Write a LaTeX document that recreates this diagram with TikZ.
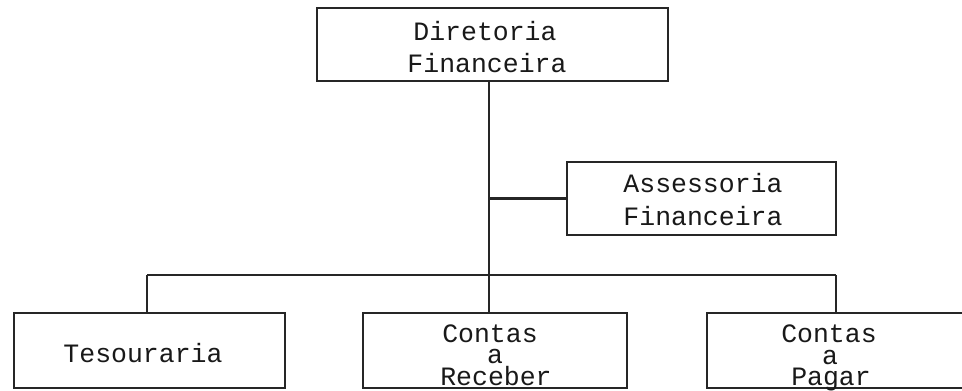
\documentclass[tikz,border=0pt]{standalone}
\usepackage{fontspec}
\newfontfamily\typew{Liberation Mono}
\begin{document}
\begin{tikzpicture}[x=1pt,y=-1pt,
  box/.style={draw=black!85,line width=2.5pt,rectangle,inner sep=0pt},
  lbl/.style={anchor=base,inner sep=0pt,text=black!90,font=\typew\fontsize{26.5}{30}\selectfont},
  wire/.style={draw=black!85,line width=2.3pt}]
\clip (0,0) rectangle (962,391);
\fill[white] (0,0) rectangle (962,391);
% boxes
\node[box,minimum width=351pt,minimum height=73pt] (dir) at (492.5,44.5) {};
\node[box,minimum width=269pt,minimum height=73pt] (ass) at (701.5,198.5) {};
\node[box,minimum width=271pt,minimum height=75pt] (tes) at (149.5,350.5) {};
\node[box,minimum width=264pt,minimum height=75pt] (rec) at (495,350.5) {};
\node[box,minimum width=293pt,minimum height=75pt] (pag) at (853.5,350.5) {};
% texts
\node[lbl] (t1) at (485,40) {Diretoria};
\node[lbl] (t2) at (487,72) {Financeira};
\node[lbl] (t3) at (703,192) {Assessoria};
\node[lbl] (t4) at (703,225) {Financeira};
\node[lbl] (t5) at (143,362) {Tesouraria};
\node[lbl] (t6) at (490,342) {Contas};
\node[lbl] (t7) at (495,363) {a};
\node[lbl] (t8) at (496,385) {Receber};
\node[lbl] (t9) at (829,342) {Contas};
\node[lbl] (t10) at (830,364) {a};
\node[lbl] (t11) at (831,385) {Pagar};
% junctions
\coordinate (ja) at (489,198.5);
\coordinate (jb) at (489,275);
\coordinate (jl) at (147,275);
\coordinate (jr) at (836,275);
% connectors
\draw[wire] (dir.south -| jb) -- (jb);
\draw[wire] (ja) -- (ja -| ass.west);
\draw[wire] (jl) -- (jr);
\draw[wire] (jl) -- (jl |- tes.north);
\draw[wire] (jb) -- (jb |- rec.north);
\draw[wire] (jr) -- (jr |- pag.north);
\end{tikzpicture}
\end{document}
